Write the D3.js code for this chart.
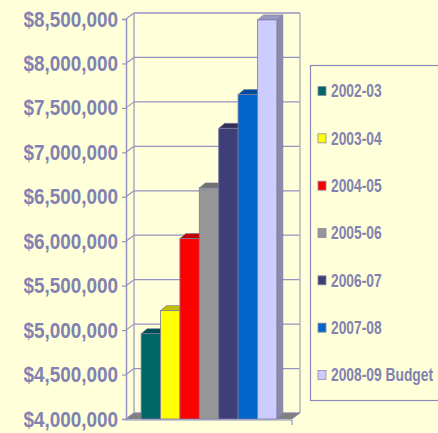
<!DOCTYPE html>
<html>
<head>
<meta charset="utf-8">
<script src="https://cdn.jsdelivr.net/npm/d3@7"></script>
<style>
  html, body { margin: 0; padding: 0; background: #ffffd9; }
  svg { display: block; }
</style>
</head>
<body>
<div id="chart"></div>
<script>
const categories = ['2002-03', '2003-04', '2004-05', '2005-06', '2006-07', '2007-08', '2008-09 Budget']
const values = [4960000, 5220000, 6030000, 6600000, 7270000, 7650000, 8490000]
const colors = ['#006666', '#ffff00', '#ff0000', '#969696', '#3f3f78', '#0066cc', '#ccccff']
const tickValues = d3.range(4000000, 8500001, 500000)

const width = 438
const height = 433
const textColor = '#8282b2'
const lineColor = '#9494c4'

// front plane of the 3d box and the offset to the back wall
const front = {left: 126, right: 292, top: 19, bottom: 419}
const wall = {dx: 8, dy: -6}
const barDepth = {dx: 6, dy: -5}

const svg = d3.select('#chart')
  .append('svg')
    .attr('width', width)
    .attr('height', height)

svg.append('rect')
  .attr('width', width)
  .attr('height', height)
  .attr('fill', '#ffffd9')

const y = d3.scaleLinear()
  .domain([4000000, 8500000])
  .range([front.bottom, front.top])

const x = d3.scaleBand()
  .domain(categories)
  .range([front.left, front.right])
  .paddingInner(0)
  .paddingOuter(0.78)

// back wall with gridlines
const backLeft = front.left + wall.dx
const backRight = front.right + wall.dx

svg.append('g')
  .selectAll('line')
  .data(tickValues)
  .join('line')
    .attr('x1', backLeft)
    .attr('x2', backRight)
    .attr('y1', d => y(d) + wall.dy)
    .attr('y2', d => y(d) + wall.dy)
    .attr('stroke', lineColor)
    .attr('stroke-width', 1.2)

// side wall diagonals
svg.append('g')
  .selectAll('line')
  .data(tickValues)
  .join('line')
    .attr('x1', front.left)
    .attr('x2', backLeft)
    .attr('y1', d => y(d))
    .attr('y2', d => y(d) + wall.dy)
    .attr('stroke', lineColor)
    .attr('stroke-width', 1.2)

svg.append('line')
  .attr('x1', backLeft).attr('x2', backLeft)
  .attr('y1', y(8500000) + wall.dy).attr('y2', y(4000000) + wall.dy)
  .attr('stroke', lineColor)
  .attr('stroke-width', 1.2)

svg.append('line')
  .attr('x1', backRight).attr('x2', backRight)
  .attr('y1', y(8500000) + wall.dy).attr('y2', y(4000000) + wall.dy)
  .attr('stroke', '#b4b4c4')
  .attr('stroke-width', 1.5)

// floor
svg.append('path')
  .attr('d', `M${front.left},${front.bottom}L${front.right},${front.bottom}` +
    `L${backRight},${front.bottom + wall.dy}L${backLeft},${front.bottom + wall.dy}Z`)
  .attr('fill', '#808080')
  .attr('stroke', '#8a8aa8')
  .attr('stroke-width', 0.8)

// bars
const bars = svg.append('g')
  .selectAll('g')
  .data(categories)
  .join('g')

bars.each(function (c, i) {
  const g = d3.select(this)
  const x0 = x(c)
  const x1 = x0 + x.bandwidth()
  const yt = y(values[i])
  const yb = y(4000000)
  const col = d3.color(colors[i])
  g.append('path')
    .attr('d', `M${x1},${yt}L${x1 + barDepth.dx},${yt + barDepth.dy}` +
      `L${x1 + barDepth.dx},${yb + barDepth.dy}L${x1},${yb}Z`)
    .attr('fill', col.darker(1.1))
    .attr('stroke', '#7a7aa0')
    .attr('stroke-width', 0.6)
  g.append('path')
    .attr('d', `M${x0},${yt}L${x0 + barDepth.dx},${yt + barDepth.dy}` +
      `L${x1 + barDepth.dx},${yt + barDepth.dy}L${x1},${yt}Z`)
    .attr('fill', col.darker(0.8))
    .attr('stroke', '#7a7aa0')
    .attr('stroke-width', 0.6)
  g.append('rect')
    .attr('x', x0)
    .attr('y', yt)
    .attr('width', x.bandwidth())
    .attr('height', yb - yt)
    .attr('fill', colors[i])
    .attr('stroke', '#7a7aa0')
    .attr('stroke-width', 0.8)
})

// top frame of the back wall
svg.append('line')
  .attr('x1', backLeft).attr('x2', backRight)
  .attr('y1', y(8500000) + wall.dy).attr('y2', y(8500000) + wall.dy)
  .attr('stroke', lineColor)
  .attr('stroke-width', 1.2)

// y axis on the front plane
const yAxis = d3.axisLeft(y)
  .tickValues(tickValues)
  .tickSize(4)
  .tickPadding(8)
  .tickFormat(d3.format('$,.0f'))

const yAxisGroup = svg.append('g')
  .attr('transform', `translate(${front.left},0)`)
  .call(yAxis)

yAxisGroup.selectAll('.domain').attr('stroke', lineColor).attr('stroke-width', 1.5)
yAxisGroup.selectAll('line').attr('stroke', lineColor).attr('stroke-width', 1.2)
yAxisGroup.selectAll('text')
  .attr('x', -9.3)
  .attr('fill', textColor)
  .attr('font-family', 'Liberation Sans, Arial, sans-serif')
  .attr('font-weight', 'bold')
  .attr('font-size', 22)
  .attr('transform', 'scale(0.86,1)')

// x axis line along floor front
svg.append('line')
  .attr('x1', front.left).attr('x2', front.right)
  .attr('y1', front.bottom + 1).attr('y2', front.bottom + 1)
  .attr('stroke', lineColor)
  .attr('stroke-width', 1.2)
svg.append('line')
  .attr('x1', front.right).attr('x2', front.right)
  .attr('y1', front.bottom + 1).attr('y2', front.bottom + 6)
  .attr('stroke', lineColor)
  .attr('stroke-width', 1.2)

// legend
const legend = svg.append('g')

legend.append('rect')
  .attr('x', 310.5)
  .attr('y', 65.5)
  .attr('width', 140)
  .attr('height', 335)
  .attr('fill', '#ffffd9')
  .attr('stroke', '#8a8abe')
  .attr('stroke-width', 1.2)

const ly = d3.scalePoint()
  .domain(categories)
  .range([91, 375])

const items = legend.selectAll('g.item')
  .data(categories)
  .join('g')
    .attr('class', 'item')
    .attr('transform', d => `translate(318,${ly(d)})`)

items.append('rect')
  .attr('x', 0)
  .attr('y', -4.5)
  .attr('width', 8)
  .attr('height', 9)
  .attr('fill', (d, i) => colors[i])
  .attr('stroke', '#8a8aa0')
  .attr('stroke-width', 0.8)

items.append('text')
  .attr('transform', 'translate(13,6.3) scale(0.79,1)')
  .attr('fill', textColor)
  .attr('font-family', 'Liberation Sans, Arial, sans-serif')
  .attr('font-weight', 'bold')
  .attr('font-size', 17.5)
  .text(d => d)
</script>
</body>
</html>
